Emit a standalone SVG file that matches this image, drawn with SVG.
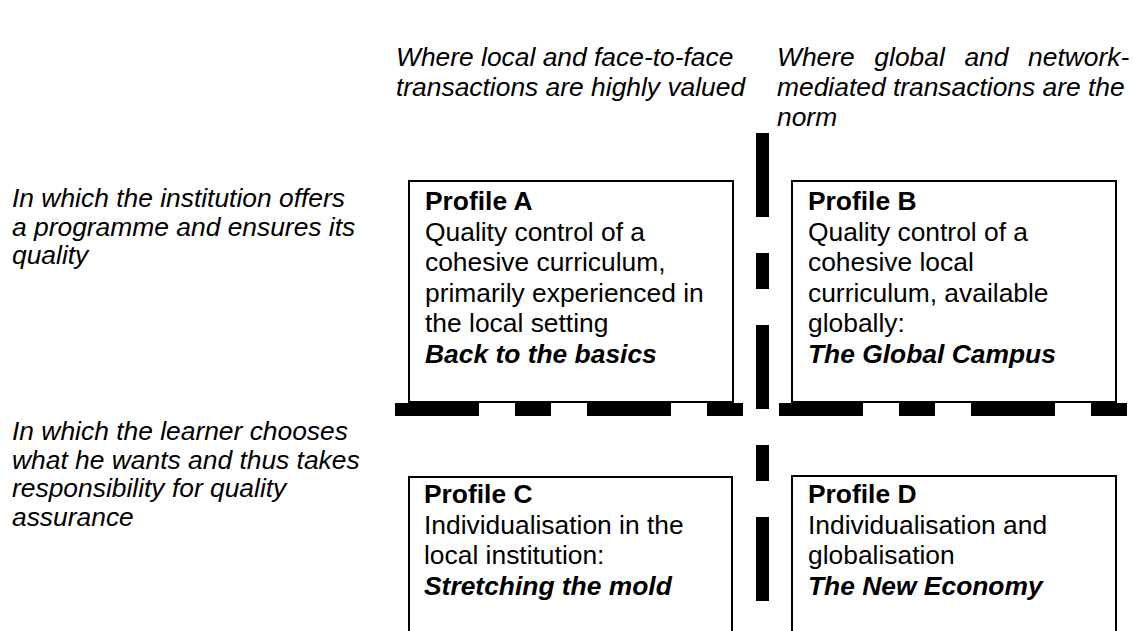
<svg xmlns="http://www.w3.org/2000/svg" width="1134" height="631" viewBox="0 0 1134 631">
<style>
text{font-family:"Liberation Sans",Arial,sans-serif;font-size:26.4px;fill:#000}
.it{font-style:italic}
.b{font-weight:bold}
.bi{font-weight:bold;font-style:italic}
.box{fill:#fff;stroke:#000;stroke-width:2}
.dash{stroke:#000;stroke-width:13;stroke-dasharray:84 36 36 36;fill:none}
</style>
<rect width="1134" height="631" fill="#fff"/>
<g id="header-local">
<text class="it" x="396" y="66">Where local and face-to-face</text>
<text class="it" x="396" y="96">transactions are highly valued</text>
</g>
<g id="header-global">
<text class="it" x="777" y="66" word-spacing="12.3">Where global and network-</text>
<text class="it" x="777" y="96">mediated transactions are the</text>
<text class="it" x="777" y="126">norm</text>
</g>
<g id="row-institution">
<text class="it" x="12" y="207">In which the institution offers</text>
<text class="it" x="12" y="235.5">a programme and ensures its</text>
<text class="it" x="12" y="264">quality</text>
</g>
<g id="row-learner">
<text class="it" x="12" y="440">In which the learner chooses</text>
<text class="it" x="12" y="468.5">what he wants and thus takes</text>
<text class="it" x="12" y="497">responsibility for quality</text>
<text class="it" x="12" y="525.5">assurance</text>
</g>
<g id="connectors">
<line class="dash" x1="395" y1="409.5" x2="743" y2="409.5"/>
<line class="dash" x1="779" y1="409.5" x2="1127" y2="409.5"/>
<line class="dash" x1="762.5" y1="133" x2="762.5" y2="602"/>
</g>
<g id="profile-a">
<rect class="box" x="409" y="181" width="324" height="221"/>
<text class="b" x="425" y="210">Profile A</text>
<text x="425" y="240.5">Quality control of a</text>
<text x="425" y="271">cohesive curriculum,</text>
<text x="425" y="301.5">primarily experienced in</text>
<text x="425" y="332">the local setting</text>
<text class="bi" x="425" y="362.5">Back to the basics</text>
</g>
<g id="profile-b">
<rect class="box" x="792" y="181" width="324" height="221"/>
<text class="b" x="808" y="210">Profile B</text>
<text x="808" y="240.5">Quality control of a</text>
<text x="808" y="271">cohesive local</text>
<text x="808" y="301.5">curriculum, available</text>
<text x="808" y="332">globally:</text>
<text class="bi" x="808" y="362.5">The Global Campus</text>
</g>
<g id="profile-c">
<rect class="box" x="409" y="477" width="323" height="170"/>
<text class="b" x="424" y="503">Profile C</text>
<text x="424" y="533.5">Individualisation in the</text>
<text x="424" y="564">local institution:</text>
<text class="bi" x="424" y="594.5">Stretching the mold</text>
</g>
<g id="profile-d">
<rect class="box" x="792" y="476" width="324" height="170"/>
<text class="b" x="808" y="503">Profile D</text>
<text x="808" y="533.5">Individualisation and</text>
<text x="808" y="564">globalisation</text>
<text class="bi" x="808" y="594.5">The New Economy</text>
</g>
</svg>
